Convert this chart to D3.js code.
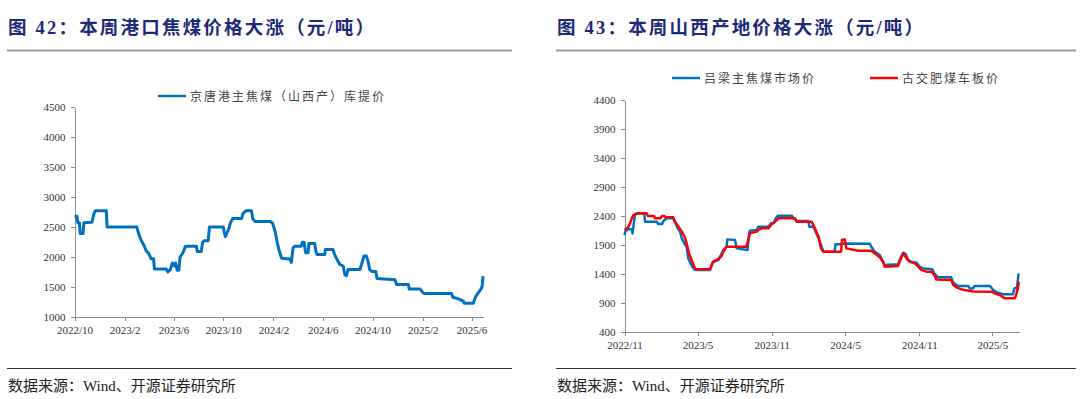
<!DOCTYPE html>
<meta charset="utf-8">
<style>
body { margin: 0; background: #fff; }
svg text { font-family: "Liberation Serif", "Noto Sans CJK SC", serif; }
.title { font-family: "Liberation Serif", "Noto Sans CJK SC"; font-weight: 700; font-size: 18.5px; fill: #1d2a78; letter-spacing: 2.2px; }
.source { font-family: "Liberation Serif", "Noto Sans CJK SC"; font-size: 15px; fill: #222; }
.legend { font-family: "Noto Sans CJK SC"; font-size: 12px; fill: #444; letter-spacing: 2px; }
.axis text { font-size: 11px; fill: #333; }
.axis path, .axis line { stroke: #8c8c8c; fill: none; shape-rendering: crispEdges; }
</style>
<div class="chart"></div>
<script src="https://d3js.org/d3.v7.min.js"></script>
<script>
// 京唐港主焦煤（山西产）库提价
var jingtang = [
  ["2022-10-01",2680],["2022-10-07",2680],["2022-10-09",2570],["2022-10-13",2570],["2022-10-15",2390],
  ["2022-10-22",2390],["2022-10-24",2570],["2022-11-13",2580],["2022-11-17",2710],["2022-11-21",2770],
  ["2022-12-18",2770],["2022-12-20",2500],["2023-03-03",2500],["2023-03-06",2420],["2023-03-10",2340],
  ["2023-03-14",2270],["2023-03-20",2200],["2023-03-26",2100],["2023-04-01",2060],["2023-04-07",1970],
  ["2023-04-13",1970],["2023-04-15",1800],["2023-05-14",1800],["2023-05-18",1750],["2023-05-24",1790],
  ["2023-05-29",1900],["2023-06-03",1850],["2023-06-06",1900],["2023-06-10",1780],["2023-06-14",1780],
  ["2023-06-17",2000],["2023-06-22",2050],["2023-06-26",2100],["2023-06-30",2180],["2023-07-27",2180],
  ["2023-07-29",2090],["2023-08-08",2090],["2023-08-11",2240],["2023-08-15",2270],["2023-08-25",2270],
  ["2023-08-28",2500],["2023-10-01",2500],["2023-10-03",2420],["2023-10-06",2340],["2023-10-10",2400],
  ["2023-10-15",2480],["2023-10-18",2560],["2023-10-24",2640],["2023-11-15",2640],["2023-11-18",2720],
  ["2023-11-25",2770],["2023-12-09",2770],["2023-12-12",2640],["2023-12-18",2590],["2024-01-25",2590],
  ["2024-01-30",2560],["2024-02-05",2430],["2024-02-10",2250],["2024-02-14",2130],["2024-02-21",1980],
  ["2024-03-12",1965],["2024-03-16",1910],["2024-03-20",2150],["2024-03-24",2180],["2024-04-09",2180],
  ["2024-04-12",2245],["2024-04-16",2245],["2024-04-20",2070],["2024-04-26",2070],["2024-04-28",2225],
  ["2024-05-12",2225],["2024-05-15",2100],["2024-05-18",2040],["2024-06-06",2040],["2024-06-07",2125],
  ["2024-06-26",2125],["2024-06-30",2040],["2024-07-06",1960],["2024-07-13",1875],["2024-07-21",1850],
  ["2024-07-25",1705],["2024-07-29",1690],["2024-08-02",1790],["2024-08-31",1790],["2024-09-04",1875],
  ["2024-09-10",2015],["2024-09-16",2015],["2024-09-20",1930],["2024-09-24",1790],["2024-09-29",1760],
  ["2024-10-09",1760],["2024-10-12",1640],["2024-11-25",1620],["2024-11-29",1540],["2024-12-28",1540],
  ["2024-12-30",1465],["2025-01-26",1465],["2025-02-01",1410],["2025-02-05",1390],["2025-04-13",1390],
  ["2025-04-16",1330],["2025-04-26",1310],["2025-05-04",1290],["2025-05-12",1260],["2025-05-14",1230],
  ["2025-06-05",1230],["2025-06-10",1320],["2025-06-14",1370],["2025-06-19",1420],["2025-06-24",1465],
  ["2025-06-27",1510],["2025-06-29",1680]
];

// 吕梁主焦煤市场价
var lvliang = [
  ["2022-11-01",2070],["2022-11-03",2130],["2022-11-09",2170],["2022-11-19",2170],["2022-11-21",2100],
  ["2022-11-25",2330],["2022-11-27",2417],["2022-12-05",2446],["2022-12-20",2440],["2022-12-22",2300],
  ["2023-01-20",2300],["2023-01-24",2260],["2023-02-02",2260],["2023-02-06",2320],["2023-02-14",2360],
  ["2023-03-02",2360],["2023-03-06",2300],["2023-03-13",2187],["2023-03-19",2130],["2023-03-23",2015],
  ["2023-03-30",1917],["2023-04-04",1870],["2023-04-08",1670],["2023-04-12",1610],["2023-04-18",1526],
  ["2023-04-25",1468],["2023-06-01",1468],["2023-06-05",1555],["2023-06-09",1612],["2023-06-22",1640],
  ["2023-06-26",1700],["2023-07-04",1813],["2023-07-12",1871],["2023-07-14",1997],["2023-08-02",1986],
  ["2023-08-06",1842],["2023-09-02",1813],["2023-09-06",2100],["2023-09-08",2147],["2023-09-25",2160],
  ["2023-09-29",2216],["2023-10-24",2216],["2023-10-30",2273],["2023-11-05",2273],["2023-11-11",2360],
  ["2023-11-16",2406],["2023-12-21",2406],["2023-12-25",2360],["2024-01-02",2314],["2024-01-31",2314],
  ["2024-02-02",2216],["2024-02-12",2216],["2024-02-16",2160],["2024-02-25",2015],["2024-03-02",1900],
  ["2024-03-08",1785],["2024-04-05",1785],["2024-04-07",1911],["2024-04-21",1911],["2024-04-25",1928],
  ["2024-07-01",1920],["2024-07-05",1870],["2024-07-13",1785],["2024-07-26",1727],["2024-08-03",1612],
  ["2024-08-07",1555],["2024-09-09",1570],["2024-09-16",1687],["2024-09-22",1767],["2024-09-28",1744],
  ["2024-10-04",1652],["2024-10-11",1612],["2024-10-25",1595],["2024-11-02",1526],["2024-11-10",1497],
  ["2024-12-03",1480],["2024-12-08",1411],["2024-12-17",1342],["2025-01-19",1342],["2025-01-24",1250],
  ["2025-02-05",1193],["2025-03-02",1193],["2025-03-06",1152],["2025-03-14",1152],["2025-03-18",1193],
  ["2025-04-25",1193],["2025-05-03",1123],["2025-05-15",1077],["2025-05-28",1049],["2025-06-21",1049],
  ["2025-06-25",1152],["2025-07-01",1170],["2025-07-05",1411]
];

// 古交肥煤车板价
var gujiao = [
  ["2022-11-01",2160],["2022-11-07",2190],["2022-11-11",2216],["2022-11-15",2280],["2022-11-19",2360],
  ["2022-11-23",2417],["2022-12-01",2446],["2022-12-26",2446],["2022-12-29",2400],["2023-01-13",2400],
  ["2023-01-16",2360],["2023-01-29",2360],["2023-02-02",2400],["2023-02-08",2400],["2023-02-10",2377],
  ["2023-03-02",2377],["2023-03-06",2300],["2023-03-15",2216],["2023-03-23",2130],["2023-03-30",2045],
  ["2023-04-04",1928],["2023-04-10",1756],["2023-04-16",1641],["2023-04-25",1497],["2023-04-29",1480],
  ["2023-06-01",1480],["2023-06-09",1612],["2023-06-17",1640],["2023-06-29",1700],["2023-07-04",1785],
  ["2023-07-12",1871],["2023-08-30",1871],["2023-09-08",2100],["2023-09-25",2130],["2023-09-29",2160],
  ["2023-10-07",2187],["2023-10-24",2187],["2023-11-01",2262],["2023-11-09",2300],["2023-11-18",2360],
  ["2023-12-29",2360],["2024-01-02",2300],["2024-02-08",2300],["2024-02-16",2187],["2024-02-25",2045],
  ["2024-03-02",1842],["2024-03-08",1785],["2024-04-21",1785],["2024-04-23",1986],["2024-04-30",1997],
  ["2024-05-04",1842],["2024-06-02",1800],["2024-07-05",1800],["2024-07-13",1756],["2024-07-26",1687],
  ["2024-08-03",1612],["2024-08-07",1526],["2024-09-09",1537],["2024-09-16",1658],["2024-09-22",1756],
  ["2024-10-03",1641],["2024-10-09",1612],["2024-10-21",1584],["2024-10-29",1526],["2024-11-06",1468],
  ["2024-11-19",1440],["2024-12-01",1440],["2024-12-08",1382],["2024-12-13",1307],["2025-01-19",1296],
  ["2025-01-24",1210],["2025-02-01",1170],["2025-02-14",1135],["2025-02-22",1123],["2025-03-14",1100],
  ["2025-04-29",1095],["2025-05-07",1066],["2025-05-19",1037],["2025-06-01",980],["2025-06-25",980],
  ["2025-06-29",1037],["2025-07-03",1152],["2025-07-06",1267]
];

var leftTicksX = ["2022-10-01","2023-02-01","2023-06-01","2023-10-01","2024-02-01","2024-06-01","2024-10-01","2025-02-01","2025-06-01"];
var rightTicksX = ["2022-11-01","2023-05-01","2023-11-01","2024-05-01","2024-11-01","2025-05-01"];
var leftTicksY = [1000,1500,2000,2500,3000,3500,4000,4500];
var rightTicksY = [400,900,1400,1900,2400,2900,3400,3900,4400];

var parse = d3.timeParse("%Y-%m-%d");
var fmt = d3.timeFormat("%Y/%-m");

var svg = d3.select(".chart").append("svg")
    .attr("width", 1080)
    .attr("height", 399);

function panel(opt) {
    var g = svg.append("g");

    g.append("text").attr("class", "title")
        .attr("x", opt.left).attr("y", 34)
        .text(opt.title);
    g.append("line")
        .attr("x1", opt.left - 1).attr("x2", opt.right)
        .attr("y1", 50.5).attr("y2", 50.5)
        .attr("stroke", "#9a9a9a").attr("stroke-width", 2);
    g.append("line")
        .attr("x1", opt.left - 1).attr("x2", opt.right)
        .attr("y1", 368.5).attr("y2", 368.5)
        .attr("stroke", "#333").attr("stroke-width", 1);
    g.append("text").attr("class", "source")
        .attr("x", opt.left).attr("y", 391)
        .text("数据来源：Wind、开源证券研究所");

    var x = d3.scaleTime().domain(opt.xDomain.map(parse)).range(opt.xRange);
    var y = d3.scaleLinear().domain(opt.yDomain).range(opt.yRange);

    g.append("g").attr("class", "axis")
        .attr("transform", "translate(0," + opt.yRange[0] + ")")
        .call(d3.axisBottom(x).tickValues(opt.xTicks.map(parse)).tickFormat(fmt).tickSize(4).tickSizeOuter(0))
        .selectAll("text").attr("dy", "0.95em");

    g.append("g").attr("class", "axis")
        .attr("transform", "translate(" + opt.xRange[0] + ",0)")
        .call(d3.axisLeft(y).tickValues(opt.yTicks).tickFormat(d3.format("d")).tickSize(4).tickSizeOuter(0).tickPadding(5));

    var line = d3.line()
        .x(function (d) { return x(parse(d[0])); })
        .y(function (d) { return y(d[1]); });

    opt.series.forEach(function (s) {
        g.append("path")
            .datum(s.data)
            .attr("fill", "none")
            .attr("stroke", s.color)
            .attr("stroke-width", s.width)
            .attr("stroke-linejoin", "round")
            .attr("d", line);
    });

    opt.series.forEach(function (s) {
        g.append("line")
            .attr("x1", s.lx).attr("x2", s.lx + 28)
            .attr("y1", opt.legendY).attr("y2", opt.legendY)
            .attr("stroke", s.color).attr("stroke-width", 2.5);
        g.append("text").attr("class", "legend")
            .attr("x", s.lx + 32).attr("y", opt.legendY + 4.5)
            .text(s.name);
    });
}

panel({
    title: "图 42：本周港口焦煤价格大涨（元/吨）",
    left: 8, right: 512,
    xDomain: ["2022-10-01", "2025-06-29"], xRange: [74.5, 483],
    yDomain: [1000, 4500], yRange: [317, 107],
    xTicks: leftTicksX, yTicks: leftTicksY,
    legendY: 96,
    series: [
        { name: "京唐港主焦煤（山西产）库提价", data: jingtang, color: "#0070C0", width: 3, lx: 158 }
    ]
});

panel({
    title: "图 43：本周山西产地价格大涨（元/吨）",
    left: 557, right: 1076,
    xDomain: ["2022-11-01", "2025-07-06"], xRange: [624.5, 1019],
    yDomain: [400, 4400], yRange: [332, 100],
    xTicks: rightTicksX, yTicks: rightTicksY,
    legendY: 78,
    series: [
        { name: "吕梁主焦煤市场价", data: lvliang, color: "#0070C0", width: 2.5, lx: 672 },
        { name: "古交肥煤车板价", data: gujiao, color: "#FF0000", width: 2.5, lx: 870 }
    ]
});
</script>
